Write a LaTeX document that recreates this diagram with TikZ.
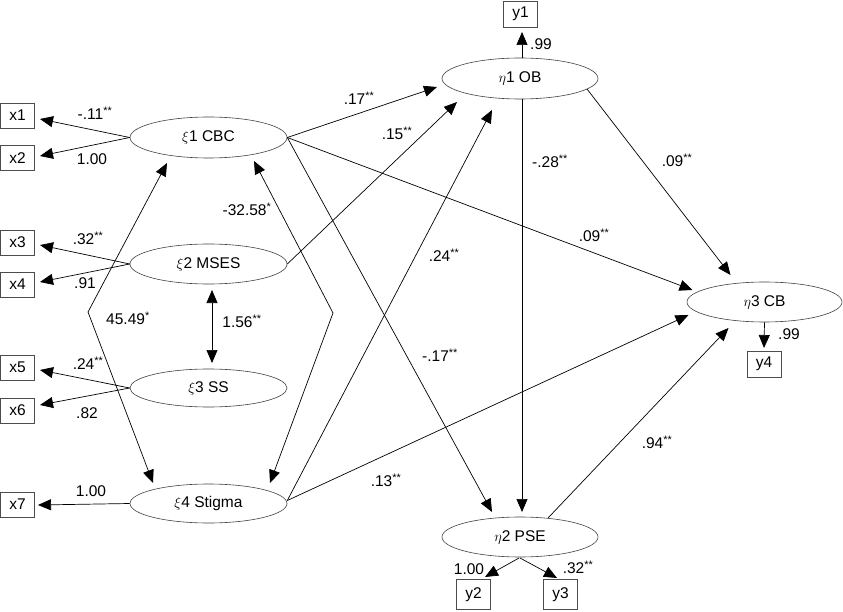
\documentclass[tikz,border=0pt]{standalone}
\usepackage{fontspec}
\setmainfont{Liberation Sans}
\usetikzlibrary{arrows.meta,shapes.geometric,calc}
\begin{document}
\begin{tikzpicture}[x=1pt,y=-1pt,
  font=\fontsize{15.5}{18}\selectfont,
  box/.style={draw=black!70,line width=0.6pt,minimum width=34pt,minimum height=25pt,inner sep=0pt},
  lat/.style={ellipse,draw=black!75,line width=0.6pt,minimum width=157pt,minimum height=40pt,inner sep=0pt},
  arr/.style={line width=0.7pt,-{Triangle[length=13pt,width=11pt]}},
  darr/.style={line width=0.7pt,{Triangle[length=13pt,width=11pt]}-{Triangle[length=13pt,width=11pt]}},
  lbl/.style={inner sep=0pt,text height=10.8pt,text depth=0pt}]
\useasboundingbox (0,0) rectangle (843,612);
% observed boxes
\node[box] (x1) at (17.5,115.5) {x1};
\node[box] (x2) at (17.5,158) {x2};
\node[box] (x3) at (17.5,242.5) {x3};
\node[box] (x4) at (17.5,284.5) {x4};
\node[box] (x5) at (17.5,367.5) {x5};
\node[box] (x6) at (17.5,410.5) {x6};
\node[box] (x7) at (17.5,504.5) {x7};
\node[box,minimum height=26pt] (y1) at (520.5,14) {y1};
\node[box,minimum height=30pt] (y2) at (473.5,594.5) {y2};
\node[box,minimum height=30pt] (y3) at (560.5,594.5) {y3};
\node[box,minimum height=26pt] (y4) at (764,364) {y4};
% latent variables
\node[lat,minimum height=41pt] (e1) at (208.5,137.5) {$\xi$1 CBC};
\node[lat] (e2) at (208.5,264) {$\xi$2 MSES};
\node[lat,minimum height=38pt] (e3) at (208.5,388) {$\xi$3 SS};
\node[lat,minimum height=39pt] (e4) at (208.5,503.5) {$\xi$4 Stigma};
\node[lat,minimum height=41pt,minimum width=156pt] (h1) at (520,78.5) {$\eta$1 OB};
\node[lat,minimum width=156pt] (h2) at (520,537) {$\eta$2 PSE};
\node[lat,minimum width=155pt] (h3) at (764.5,302) {$\eta$3 CB};
\coordinate (cL) at (88,312);
\coordinate (cR) at (333,313);
% measurement arrows
\draw[arr] (e1.west) -- ($(x1)+(22.5,3.5)$);
\draw[arr] (e1.west) -- ($(x2)+(22.5,-2)$);
\draw[arr] (e2.west) -- ($(x3)+(22.5,2.5)$);
\draw[arr] (e2.west) -- ($(x4)+(22.5,-2.5)$);
\draw[arr] (e3.west) -- ($(x5)+(22.5,2.5)$);
\draw[arr] (e3.west) -- ($(x6)+(22.5,-5.5)$);
\draw[arr] (e4.west) -- ($(x7)+(20.5,0.5)$);
\draw[arr] ($(h1)+(2,-20.5)$) -- ($(y1)+(1.5,18)$);
\draw[arr] (h3.south) -- ($(y4)+(0,-16)$);
\draw[arr] ($(h2)+(-1,21)$) -- ($(y2)+(11.5,-17.5)$);
\draw[arr] ($(h2)+(0,21)$) -- ($(y3)+(-3.5,-16.5)$);
% covariances
\draw[darr] ($(e1)+(-41.5,25.5)$) -- (cL) -- ($(e4)+(-55.5,-20.5)$);
\draw[darr] ($(e1)+(45.5,23.5)$) -- (cR) -- ($(e4)+(61.5,-20.5)$);
\draw[darr] ($(e2)+(3.5,26)$) -- ($(e3)+(3.5,-25)$);
% structural paths
\draw[arr] (e1.east) -- ($(h1)+(-83,8.5)$);
\draw[arr] (e2.east) -- ($(h1)+(-63,23.5)$);
\draw[arr] ($(e4.east)+(0,-3)$) -- ($(h1)+(-28,31.5)$);
\draw[arr] (e1.east) -- ($(h3)+(-72,-12)$);
\draw[arr] (e1.east) -- ($(h2)+(-28,-25)$);
\draw[arr] ($(e4.east)+(0,-3)$) -- ($(h3)+(-76,13)$);
\draw[arr] ($(h1)+(2,20.5)$) -- ($(h2)+(2,-25)$);
\draw[arr] ($(h1)+(67,10.5)$) -- ($(h3)+(-34,-27)$);
\draw[arr] ($(h2)+(28,-19)$) -- ($(h3)+(-36,26)$);
% labels
\node[lbl] (l1) at (95,114) {-.11\textsuperscript{**}};
\node[lbl] (l2) at (92,159) {1.00};
\node[lbl] (l3) at (88,239) {.32\textsuperscript{**}};
\node[lbl] (l4) at (85,283) {.91};
\node[lbl] (l5) at (88,364) {.24\textsuperscript{**}};
\node[lbl] (l6) at (87,413) {.82};
\node[lbl] (l7) at (91,491) {1.00};
\node[lbl] (l8) at (128,319) {45.49\textsuperscript{*}};
\node[lbl] (l9) at (247,210) {-32.58\textsuperscript{*}};
\node[lbl] (l10) at (242,322) {1.56\textsuperscript{**}};
\node[lbl] (l11) at (359,99) {.17\textsuperscript{**}};
\node[lbl] (l12) at (397,134) {.15\textsuperscript{**}};
\node[lbl] (l13) at (550,162) {-.28\textsuperscript{**}};
\node[lbl] (l14) at (541,44) {.99};
\node[lbl] (l15) at (677,161) {.09\textsuperscript{**}};
\node[lbl] (l16) at (594,236) {.09\textsuperscript{**}};
\node[lbl] (l17) at (444,256) {.24\textsuperscript{**}};
\node[lbl] (l18) at (440,356) {-.17\textsuperscript{**}};
\node[lbl] (l19) at (386,481) {.13\textsuperscript{**}};
\node[lbl] (l20) at (657,443) {.94\textsuperscript{**}};
\node[lbl] (l21) at (789,334) {.99};
\node[lbl] (l22) at (469,569) {1.00};
\node[lbl] (l23) at (578,568) {.32\textsuperscript{**}};
\end{tikzpicture}
\end{document}
